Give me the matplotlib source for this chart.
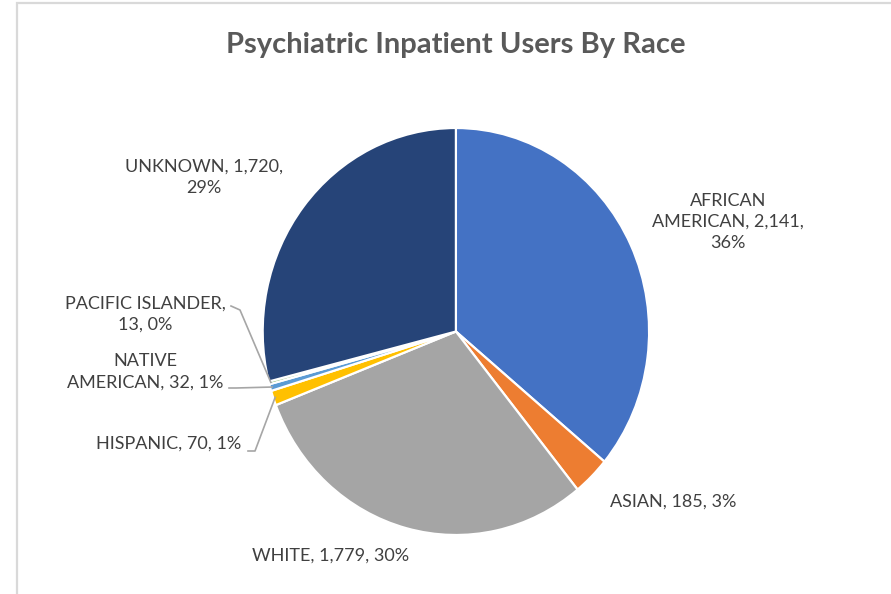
import matplotlib
matplotlib.use("Agg")
import matplotlib.pyplot as plt
from matplotlib.patches import Rectangle
import numpy as np

# ---- data ----
categories = ["AFRICAN AMERICAN", "ASIAN", "WHITE", "HISPANIC",
              "NATIVE AMERICAN", "PACIFIC ISLANDER", "UNKNOWN"]
values = [2141, 185, 1779, 70, 32, 13, 1720]
colors = ["#4472C4", "#ED7D31", "#A5A5A5", "#FFC000",
          "#5B9BD5", "#70AD47", "#264478"]
title = "Psychiatric Inpatient Users By Race"
# label layouts (line breaks) for each category
label_fmt = ["AFRICAN\nAMERICAN, {v},\n{p}",
             "ASIAN, {v}, {p}",
             "WHITE, {v}, {p}",
             "HISPANIC, {v}, {p}",
             "NATIVE\nAMERICAN, {v}, {p}",
             "PACIFIC ISLANDER,\n{v}, {p}",
             "UNKNOWN, {v},\n{p}"]

W, H = 891, 594
fig = plt.figure(figsize=(W / 100, H / 100), dpi=100)
plt.rcParams['font.family'] = ['Lato', 'DejaVu Sans']

# border of chart area
fig.patches.append(Rectangle((16.5 / W, -0.1), 1.2, 1 - 3.5 / H + 0.1,
                             transform=fig.transFigure, fill=False,
                             edgecolor="#D9D9D9", linewidth=1.6))

# pie axes (slightly stretched ellipse as in the reference)
cx, cy, rx, ry = 455.9, 331.5, 193.2, 203.5
ax = fig.add_axes([(cx - rx) / W, (H - cy - ry) / H, 2 * rx / W, 2 * ry / H])
wedges, _ = ax.pie(values, colors=colors, startangle=90, counterclock=False,
                   radius=1.0, wedgeprops=dict(edgecolor="white", linewidth=1.6))
ax.set_aspect('auto')
ax.set_xlim(-1, 1)
ax.set_ylim(-1, 1)
ax.axis('off')


def p2d(px, py):
    return (px - cx) / rx, (cy - py) / ry


total = sum(values)
# label positions in pixels (center of text block)
label_pos = [(728, 222), (673, 502), (331, 556), (169, 444),
             (145, 372), (145, 314), (204, 177)]
txtcol = "#404040"
for i, (w, fmt) in enumerate(zip(wedges, label_fmt)):
    pct = values[i] / total * 100
    s = fmt.format(v=f"{values[i]:,}", p=f"{pct:.0f}%")
    x, y = p2d(*label_pos[i])
    ax.text(x, y, s, ha="center", va="center", fontsize=13, color=txtcol,
            linespacing=1.4, clip_on=False)

# leader lines for small slices
leader = {3: [(248, 451), (255, 451)],
          4: [(229, 388), (236, 388)],
          5: [(231, 306), (240, 310)]}
for i, pts in leader.items():
    w = wedges[i]
    ang = np.deg2rad((w.theta1 + w.theta2) / 2)
    ex, ey = np.cos(ang) * 0.99, np.sin(ang) * 0.99
    xs = [p2d(*p)[0] for p in pts] + [ex]
    ys = [p2d(*p)[1] for p in pts] + [ey]
    ax.plot(xs, ys, color="#A6A6A6", linewidth=1.2, clip_on=False)

fig.text(456 / W, 1 - 45 / H, title, ha="center", va="center", fontsize=21,
         fontweight="bold", color="#595959")

fig.savefig("out.png", dpi=100, facecolor="white")
